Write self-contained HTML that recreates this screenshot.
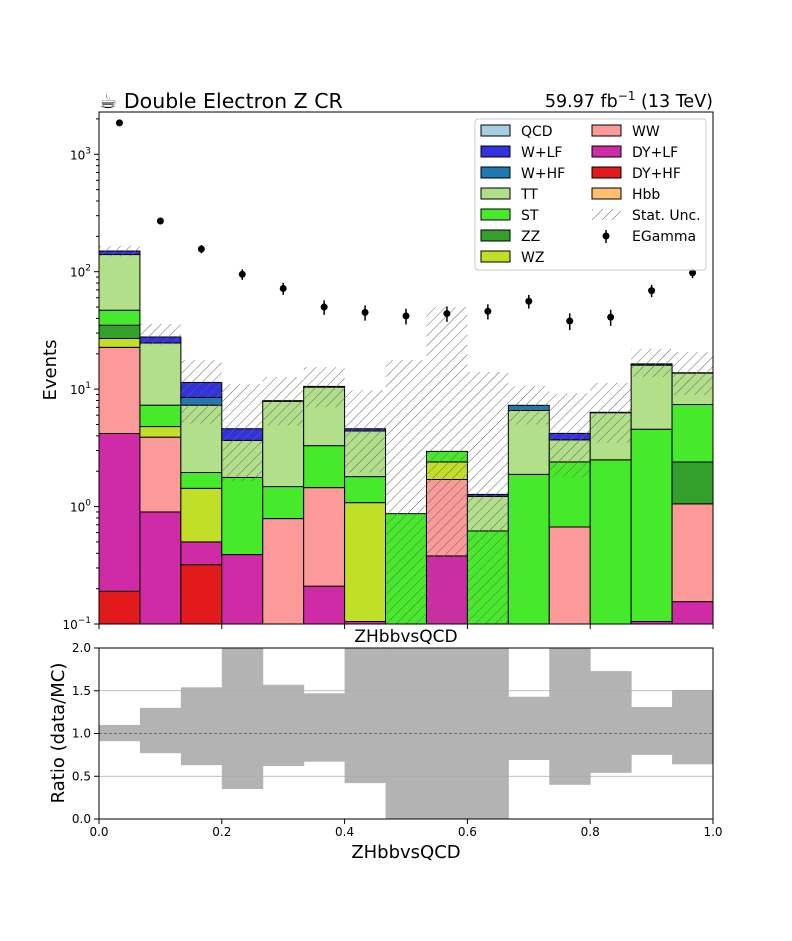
<!DOCTYPE html>
<html><head><meta charset="utf-8"><style>
body{margin:0;background:#fff}
svg{font-family:"DejaVu Sans","Liberation Sans",sans-serif}
</style></head><body>
<svg id="c" width="792" height="936" xmlns="http://www.w3.org/2000/svg">
<defs>
<pattern id="hatch" patternUnits="userSpaceOnUse" width="7" height="7" patternTransform="rotate(45)">
<line x1="0" y1="0" x2="0" y2="7" stroke="#666" stroke-width="1"/>
</pattern>
</defs>
<g id="main"></g>
</svg>
<script>
const edges=[0,1/15,2/15,3/15,4/15,5/15,6/15,7/15,8/15,9/15,10/15,11/15,12/15,13/15,14/15,1];
const processes=["DY+HF","DY+LF","WW","WZ","ZZ","ST","TT","W+HF","W+LF","QCD","Hbb"];
const DYHF=[0.19,0,0.32,0,0,0,0,0,0,0,0,0,0,0,0];
const DYLF=[4.0,0.9,0.18,0.39,0,0.21,0.105,0,0.38,0,0,0,0,0.105,0.155];
const WW=[18.5,3.0,0,0,0.79,1.24,0,0,1.32,0,0,0.67,0,0,0.9];
const WZ=[4.3,0.9,0.93,0,0,0,0.975,0,0.7,0,0,0,0,0,0];
const ZZ=[8,0,0,0,0,0,0,0,0,0,0,0,0,0,1.34];
const ST=[12,2.5,0.52,1.38,0.69,1.85,0.72,0.87,0.55,0.62,1.88,1.73,2.5,4.45,5.0];
const TT=[93,17.4,5.35,1.89,6.4,7.1,2.6,0,0,0.6,4.7,1.3,3.8,11.45,6.3];
const WHF=[0,0,1.2,0,0,0,0,0,0,0,0.7,0,0,0,0];
const WLF=[10,3.1,2.9,0.94,0.1,0.15,0.2,0,0,0.05,0,0.5,0.05,0.4,0.1];
const QCD=[0,0,0,0,0,0,0,0,0,0,0,0,0,0,0];
const HBB=[0,0,0,0,0,0,0,0,0,0,0,0,0,0,0];
const uncHi=[166,36,17.7,11,12.7,15.4,9.8,17.7,50,14,10.6,9.2,11.3,22,20.7];
const uncLo=[135,24,5.1,1.65,4.9,7,1.95,0.01,0.01,0.01,5.0,1.77,3.5,12.7,8.9];
const dataVals=[1850,270,156,95,72,50,45,42,44,46,56,38,41,69,98];
const ratioLo=[0.91,0.77,0.63,0.35,0.62,0.67,0.42,0,0,0,0.69,0.40,0.54,0.75,0.64];
const ratioHi=[1.10,1.30,1.54,2.1,1.57,1.47,2.1,2.1,2.1,2.1,1.43,2.1,1.73,1.31,1.51];
const yTicks=[-1,0,1,2,3];
const rTicks=["0.0","0.5","1.0","1.5","2.0"];
const xTicks=["0.0","0.2","0.4","0.6","0.8","1.0"];
const series=[DYHF,DYLF,WW,WZ,ZZ,ST,TT,WHF,WLF,QCD,HBB];
const colors=["#e31a1c","#d02ba6","#fb9a99","#c2df28","#33a02c","#47ea2a","#b2df8a","#1f78b4","#3232e0","#a6cee3","#fdbf6f"];

const X0=99,X1=713,Y0=112,Y1=624,RY0=648,RY1=819;
const LMIN=-1,LMAX=Math.log10(2290);
const sx=v=>X0+v*(X1-X0);
const sy=v=>{const l=Math.log10(Math.max(v,1e-4));const c=Math.min(Math.max(l,LMIN-0.2),LMAX+0.2);return Y1-(c-LMIN)/(LMAX-LMIN)*(Y1-Y0);};
const ry=v=>RY1-Math.min(Math.max(v,0),2)/2*(RY1-RY0);
const NS="http://www.w3.org/2000/svg";
const root=document.getElementById('main');
function mk(tag,attrs,parent){const e=document.createElementNS(NS,tag);for(const k in attrs)e.setAttribute(k,attrs[k]);(parent||root).appendChild(e);return e;}

const defs=document.querySelector('defs');
const cp=mk('clipPath',{id:'clipMain'},defs);mk('rect',{x:X0,y:Y0,width:X1-X0,height:Y1-Y0},cp);
const cp2=mk('clipPath',{id:'clipRatio'},defs);mk('rect',{x:X0,y:RY0,width:X1-X0,height:RY1-RY0},cp2);
const gm=mk('g',{'clip-path':'url(#clipMain)'});



for(let b=0;b<15;b++){
  let cum=0;
  const xa=sx(edges[b]),xb=sx(edges[b+1]);
  for(let p=0;p<series.length;p++){
    const v=series[p][b];if(!v)continue;
    const lo=cum;cum+=v;
    const r=mk('rect',{x:xa,y:sy(cum),width:xb-xa,height:sy(lo)-sy(cum),fill:colors[p],stroke:'#000','stroke-width':1},gm);
    
    
  }
  const h=mk('rect',{x:xa,y:sy(uncHi[b]),width:xb-xa,height:sy(uncLo[b])-sy(uncHi[b]),fill:'url(#hatch)'},gm);
  
  
  const xc=(xa+xb)/2,d=dataVals[b],e=Math.sqrt(d);
  const eb=mk('line',{x1:xc,x2:xc,y1:sy(d+e),y2:sy(d-e),stroke:'#000','stroke-width':1.5},gm);
  
  
  const pt=mk('circle',{cx:xc,cy:sy(d),r:3.5,fill:'#000'},gm);
  
  
}
const fr=mk('rect',{x:X0,y:Y0,width:X1-X0,height:Y1-Y0,fill:'none',stroke:'#000','stroke-width':1});


yTicks.forEach(t=>{
  const y=sy(Math.pow(10,t));
  mk('line',{x1:X0-5,x2:X0,y1:y,y2:y,stroke:'#000'});
  const tx=mk('text',{x:X0-8,y:y+5,'text-anchor':'end','font-size':12});
  tx.innerHTML='10<tspan dy="-6" font-size="9">'+(t<0?'\u22121':t)+'</tspan>';
  
  
  for(let m=2;m<10;m++){const ym=sy(m*Math.pow(10,t));if(ym>=Y0)mk('line',{x1:X0-3,x2:X0,y1:ym,y2:ym,stroke:'#000'});}
});
xTicks.forEach((t,i)=>{const x=sx(i*0.2);mk('line',{x1:x,x2:x,y1:Y1,y2:Y1+5,stroke:'#000'});});
const gr=mk('g',{'clip-path':'url(#clipRatio)'});
for(let b=0;b<15;b++){
  const xa=sx(edges[b]),xb=sx(edges[b+1]);
  const r=mk('rect',{x:xa,y:ry(ratioHi[b]),width:xb-xa+0.5,height:ry(ratioLo[b])-ry(ratioHi[b]),fill:'#b3b3b3'},gr);
  
  
}
[0.5,1.5].forEach(v=>mk('line',{x1:X0,x2:X1,y1:ry(v),y2:ry(v),stroke:'#aaa','stroke-width':0.8}));
mk('line',{x1:X0,x2:X1,y1:ry(1),y2:ry(1),stroke:'#555','stroke-width':0.8,'stroke-dasharray':'3,2'});
const rf=mk('rect',{x:X0,y:RY0,width:X1-X0,height:RY1-RY0,fill:'none',stroke:'#000'});


rTicks.forEach((t,i)=>{const y=ry(i*0.5);mk('line',{x1:X0-5,x2:X0,y1:y,y2:y,stroke:'#000'});
  const tx=mk('text',{x:X0-8,y:y+4,'text-anchor':'end','font-size':12});tx.textContent=t;
  
  });
xTicks.forEach((t,i)=>{const x=sx(i*0.2);mk('line',{x1:x,x2:x,y1:RY1,y2:RY1+5,stroke:'#000'});
  const tx=mk('text',{x:x,y:RY1+17,'text-anchor':'middle','font-size':12});tx.textContent=t;
  
  });
</script>
<svg style="position:absolute;left:0;top:0" width="792" height="936" xmlns="http://www.w3.org/2000/svg" font-family="DejaVu Sans, Liberation Sans, sans-serif">
<text x="99" y="108" font-size="20.5">☕ Double Electron Z CR</text>
<text x="713" y="107" font-size="17.5" text-anchor="end">59.97 fb<tspan dy="-7" font-size="12">−1</tspan><tspan dy="7"> (13 TeV)</tspan></text>
<text x="406" y="642" font-size="17" text-anchor="middle">ZHbbvsQCD</text>
<text x="406" y="858" font-size="18" text-anchor="middle">ZHbbvsQCD</text>
<text transform="translate(56,370) rotate(-90)" font-size="18" text-anchor="middle">Events</text>
<text transform="translate(64,733) rotate(-90)" font-size="18" text-anchor="middle">Ratio (data/MC)</text>
<g font-size="14">
<rect x="475" y="119" width="231" height="151" rx="3" fill="#fff" fill-opacity="0.85" stroke="#ccc"/>
<g><rect x="481" y="125" width="29" height="11" fill="#a6cee3" stroke="#000"/><text x="521" y="136">QCD</text></g>
<g><rect x="481" y="146" width="29" height="11" fill="#3232e0" stroke="#000"/><text x="521" y="157">W+LF</text></g>
<g><rect x="481" y="167" width="29" height="11" fill="#1f78b4" stroke="#000"/><text x="521" y="178">W+HF</text></g>
<g><rect x="481" y="188" width="29" height="11" fill="#b2df8a" stroke="#000"/><text x="521" y="199">TT</text></g>
<g><rect x="481" y="209" width="29" height="11" fill="#47ea2a" stroke="#000"/><text x="521" y="220">ST</text></g>
<g><rect x="481" y="230" width="29" height="11" fill="#33a02c" stroke="#000"/><text x="521" y="241">ZZ</text></g>
<g><rect x="481" y="251" width="29" height="11" fill="#c2df28" stroke="#000"/><text x="521" y="262">WZ</text></g>
<g><rect x="592" y="125" width="29" height="11" fill="#fb9a99" stroke="#000"/><text x="632" y="136">WW</text></g>
<g><rect x="592" y="146" width="29" height="11" fill="#d02ba6" stroke="#000"/><text x="632" y="157">DY+LF</text></g>
<g><rect x="592" y="167" width="29" height="11" fill="#e31a1c" stroke="#000"/><text x="632" y="178">DY+HF</text></g>
<g><rect x="592" y="188" width="29" height="11" fill="#fdbf6f" stroke="#000"/><text x="632" y="199">Hbb</text></g>
<g><rect x="592" y="209" width="29" height="11" fill="url(#hatch)"/><text x="632" y="220">Stat. Unc.</text></g>
<g><line x1="606" x2="606" y1="230" y2="243" stroke="#000" stroke-width="1.5"/><circle cx="606" cy="236" r="3.5"/><text x="632" y="241">EGamma</text></g>
</g>
</svg>
</body></html>
